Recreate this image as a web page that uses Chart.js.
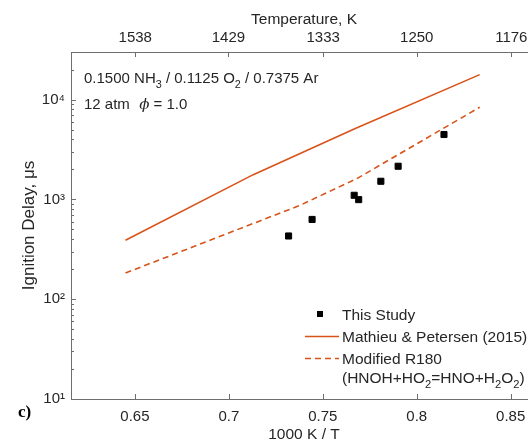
<!DOCTYPE html>
<html><head><meta charset="utf-8">
<script src="https://cdn.jsdelivr.net/npm/chart.js@4.4.0/dist/chart.umd.min.js"></script>
<style>
html,body{margin:0;padding:0;overflow:hidden;background:#fff;width:528px;height:445px}
#wrap{position:relative;width:537px;height:445px}
</style>
</head><body><div id="wrap"><canvas id="c" width="537" height="445"></canvas></div>
<script>
// ---- data ----
const studyX = [0.7318, 0.7443, 0.7667, 0.7691, 0.7809, 0.7901, 0.8145];
const studyY = [430, 630, 1100, 995, 1520, 2150, 4470];
const mathieuX = [0.645, 0.713, 0.767, 0.8335];
const mathieuY = [389, 1770, 5100, 17800];
const modX = [0.645, 0.7378, 0.768, 0.8335];
const modY = [183, 871, 1610, 8380];
const bottomTicks = [0.65, 0.7, 0.75, 0.8, 0.85];
const tempTicks = [1538, 1429, 1333, 1250, 1176];
const yDecades = [10, 100, 1000, 10000];

const FAM = '"Liberation Sans", Arial, Helvetica, sans-serif';
const TXT = '#262626';
const ORANGE = 'rgb(217,83,25)';
const AXIS = '#6e6e6e';
const SUP = {'0':'⁰','1':'¹','2':'²','3':'³','4':'⁴','5':'⁵'};
const XMIN = 0.616, XMAX = 0.864;

const pts = (xs, ys) => xs.map((x, i) => ({x: x, y: ys[i]}));

function drawRich(ctx, x, y, segs, size) {
  for (const s of segs) {
    const fs = s.sub ? size * 0.72 : size;
    ctx.font = (s.italic ? 'italic ' : '') + fs + 'px ' + (s.fam || FAM);
    const dy = s.sub ? size * 0.33 : 0;
    ctx.fillText(s.t, x, y + dy);
    x += ctx.measureText(s.t).width;
  }
  return x;
}

function noPad(s) { s.paddingLeft = 0; s.paddingRight = 0; s.paddingTop = 0; s.paddingBottom = 0; }

const decor = {
  id: 'decor',
  afterDraw(chart) {
    const ctx = chart.ctx, a = chart.chartArea;
    const sx = chart.scales.x, sx2 = chart.scales.x2, sy = chart.scales.y;
    ctx.save();
    ctx.strokeStyle = AXIS; ctx.lineWidth = 1;
    ctx.beginPath();
    ctx.moveTo(a.left + 0.5, a.top); ctx.lineTo(a.left + 0.5, a.bottom + 0.5);
    ctx.moveTo(a.left, a.bottom + 0.5); ctx.lineTo(a.right, a.bottom + 0.5);
    ctx.moveTo(a.left, a.top + 0.5); ctx.lineTo(a.right, a.top + 0.5);
    bottomTicks.forEach(v => { const p = Math.round(sx.getPixelForValue(v)) + 0.5; ctx.moveTo(p, a.bottom); ctx.lineTo(p, a.bottom - 5); });
    tempTicks.forEach(t => { const p = Math.round(sx2.getPixelForValue(1000 / t)) + 0.5; ctx.moveTo(p, a.top); ctx.lineTo(p, a.top + 5); });
    for (let d = 10; d <= 10000; d *= 10) {
      for (let m = 1; m <= 9; m++) {
        const v = d * m;
        if (v > sy.max) break;
        const p = Math.round(sy.getPixelForValue(v)) + 0.5;
        ctx.moveTo(a.left, p); ctx.lineTo(a.left + (m === 1 ? 5 : 3), p);
      }
    }
    ctx.stroke();

    // annotation
    ctx.fillStyle = TXT; ctx.textBaseline = 'alphabetic'; ctx.textAlign = 'left';
    drawRich(ctx, 84, 83, [{t: '0.1500 NH'}, {t: '3', sub: true}, {t: ' / 0.1125 O'}, {t: '2', sub: true}, {t: ' / 0.7375 Ar'}], 15);
    let xx = drawRich(ctx, 84, 109, [{t: '12 atm  '}], 15);
    xx = drawRich(ctx, xx + 1, 109, [{t: 'ϕ', italic: true, fam: '"DejaVu Serif", serif'}], 15);
    drawRich(ctx, xx, 109, [{t: ' = 1.0'}], 15);

    // legend
    const ds = chart.data.datasets;
    const lx0 = 305, lx1 = 339, tx = 342;
    ctx.fillStyle = '#000';
    ctx.fillRect(317, 311, 6, 6);
    ctx.fillStyle = TXT;
    ctx.font = '15.5px ' + FAM;
    ctx.fillText(ds[0].label, tx, 319.5);
    ctx.strokeStyle = ds[1].borderColor; ctx.lineWidth = ds[1].borderWidth; ctx.setLineDash([]);
    ctx.beginPath(); ctx.moveTo(lx0, 336.5); ctx.lineTo(lx1, 336.5); ctx.stroke();
    ctx.fillText(ds[1].label, tx, 341.5);
    ctx.strokeStyle = ds[2].borderColor; ctx.lineWidth = ds[2].borderWidth; ctx.setLineDash(ds[2].borderDash);
    ctx.beginPath(); ctx.moveTo(lx0, 358.5); ctx.lineTo(lx1, 358.5); ctx.stroke();
    ctx.setLineDash([]);
    ctx.fillText('Modified R180', tx, 363.5);
    drawRich(ctx, tx, 383, [{t: '(HNOH+HO'}, {t: '2', sub: true}, {t: '=HNO+H'}, {t: '2', sub: true}, {t: 'O'}, {t: '2', sub: true}, {t: ')'}], 15.5);

    // panel label
    ctx.font = 'bold 17px "Liberation Serif", "Times New Roman", serif';
    ctx.fillStyle = '#000';
    ctx.fillText('c)', 18, 417);
    ctx.restore();
  }
};

new Chart(document.getElementById('c'), {
  type: 'scatter',
  data: {
    datasets: [
      {label: 'This Study', data: pts(studyX, studyY), showLine: false, pointStyle: 'rect',
       pointRadius: 4.3, backgroundColor: '#000', borderColor: '#000', borderWidth: 1},
      {label: 'Mathieu & Petersen (2015)', data: pts(mathieuX, mathieuY), showLine: true, pointRadius: 0,
       borderColor: ORANGE, borderWidth: 1.6, fill: false, tension: 0},
      {label: 'Modified R180 (HNOH+HO2=HNO+H2O2)', data: pts(modX, modY), showLine: true, pointRadius: 0,
       borderColor: ORANGE, borderWidth: 1.6, borderDash: [6, 4], fill: false, tension: 0}
    ]
  },
  options: {
    responsive: false, animation: false, devicePixelRatio: 1,
    layout: {padding: 0, autoPadding: false},
    plugins: {legend: {display: false}, tooltip: {enabled: false}},
    scales: {
      x: {
        type: 'linear', position: 'bottom', min: XMIN, max: XMAX,
        afterBuildTicks: s => { s.ticks = bottomTicks.map(v => ({value: v})); },
        afterFit: s => { s.height = 46; noPad(s); },
        ticks: {callback: v => String(v), font: {family: FAM, size: 15}, color: TXT, padding: 9, maxRotation: 0, autoSkip: false},
        grid: {display: false, drawTicks: false}, border: {display: false},
        title: {display: true, text: '1000 K / T', font: {family: FAM, size: 15.5}, color: TXT, padding: {top: 0, bottom: 1}}
      },
      x2: {
        type: 'linear', position: 'top', min: XMIN, max: XMAX,
        afterBuildTicks: s => { s.ticks = tempTicks.map(t => ({value: 1000 / t})); },
        afterFit: s => { s.height = 52; noPad(s); },
        ticks: {callback: v => String(Math.round(1000 / v)), font: {family: FAM, size: 15}, color: TXT, padding: 5, maxRotation: 0, autoSkip: false},
        grid: {display: false, drawTicks: false}, border: {display: false},
        title: {display: true, text: 'Temperature, K', font: {family: FAM, size: 15.5}, color: TXT, padding: {top: 10, bottom: 0}}
      },
      y: {
        type: 'logarithmic', position: 'left', min: 10, max: 30000,
        afterBuildTicks: s => { s.ticks = yDecades.map(v => ({value: v})); },
        afterFit: s => { s.width = 71; noPad(s); },
        ticks: {callback: v => '10' + SUP[String(Math.round(Math.log10(v)))], font: {family: FAM, size: 15}, color: TXT, padding: 6, autoSkip: false},
        grid: {display: false, drawTicks: false}, border: {display: false},
        title: {display: true, text: 'Ignition Delay, μs', font: {family: FAM, size: 17}, color: TXT, padding: {top: 19, bottom: 0}}
      }
    }
  },
  plugins: [decor]
});
</script>
</body></html>
